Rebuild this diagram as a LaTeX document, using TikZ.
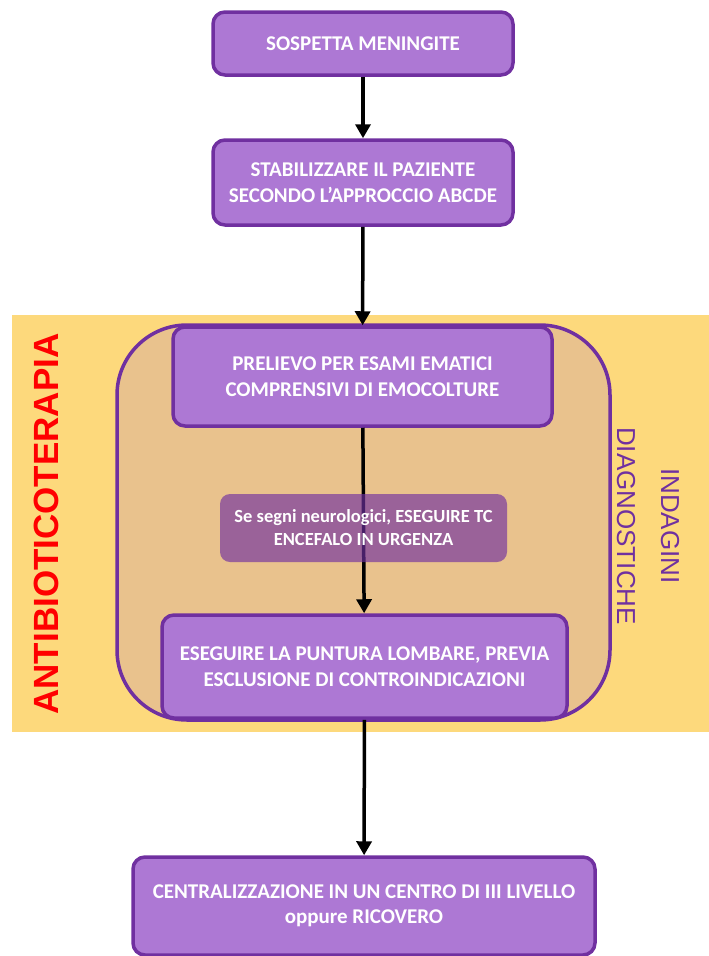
\documentclass[tikz,border=0pt]{standalone}
\usepackage{fontspec}
\setmainfont{Carlito}
\newfontfamily\arialfont{Liberation Sans}
\usetikzlibrary{arrows.meta,positioning}
\definecolor{boxfill}{HTML}{AD78D4}
\definecolor{boxline}{HTML}{7030A0}
\definecolor{bandyellow}{HTML}{FDD97C}
\definecolor{regiontan}{HTML}{E9C28D}

\begin{document}
\begin{tikzpicture}[x=1pt,y=-1pt,
    stepbox/.style={draw=boxline,line width=3.5pt,fill=boxfill,rounded corners=12pt,
      text=white,font=\bfseries\fontsize{21}{25.5}\selectfont,align=center,inner sep=0pt},
    notebox/.style={fill=boxline,fill opacity=0.65,text opacity=1,rounded corners=10pt,
      text=white,font=\bfseries\fontsize{18.5}{23}\selectfont,align=center,inner sep=0pt},
    flow/.style={line width=3.5pt,-{Triangle[length=14pt,width=15pt]}}]
    \useasboundingbox (0,0) rectangle (709,956);

    % Antibiotic band
    \fill[bandyellow] (12,315) rectangle (709,732);

    % Diagnostic region
    \filldraw[fill=regiontan,draw=boxline,line width=3.5pt,rounded corners=70pt]
        (117,325) rectangle (610,720);

    % Steps
    \node[stepbox,minimum width=300pt,minimum height=63pt] (sospetta) at (363,43.5)
        {SOSPETTA MENINGITE};
    \node[stepbox,minimum width=300pt,minimum height=85pt] (stabilizzare) at (363,182.5)
        {STABILIZZARE IL PAZIENTE\\SECONDO L'APPROCCIO ABCDE};
    \node[stepbox,minimum width=379pt,minimum height=99pt] (prelievo) at (362.5,376.5)
        {PRELIEVO PER ESAMI EMATICI\\COMPRENSIVI DI EMOCOLTURE};
    \node[stepbox,minimum width=405pt,minimum height=103pt] (puntura) at (364.5,666.5)
        {ESEGUIRE LA PUNTURA LOMBARE, PREVIA\\ESCLUSIONE DI CONTROINDICAZIONI};
    \node[stepbox,minimum width=462pt,minimum height=98pt] (ricovero) at (364,906)
        {CENTRALIZZAZIONE IN UN CENTRO DI III LIVELLO\\oppure RICOVERO};

    % Arrows
    \draw[flow] (sospetta) -- (stabilizzare);
    \draw[flow] (stabilizzare) -- (prelievo);
    \draw[flow] (prelievo) -- (puntura);
    \draw[flow] (puntura) -- (ricovero);

    % Note over the arrow
    \node[notebox,minimum width=287pt,minimum height=68pt] (tc) at (363.5,528)
        {Se segni neurologici, ESEGUIRE TC\\ENCEFALO IN URGENZA};

    % Side labels
    \node[rotate=90,text=red,font=\arialfont\bfseries\fontsize{35}{40}\selectfont]
        (antibiotico) at (46,524) {ANTIBIOTICOTERAPIA};
    \node[rotate=-90,text=boxline,align=center,font=\arialfont\fontsize{26}{44}\selectfont]
        (indagini) at (648,526) {INDAGINI\\DIAGNOSTICHE};
\end{tikzpicture}
\end{document}
